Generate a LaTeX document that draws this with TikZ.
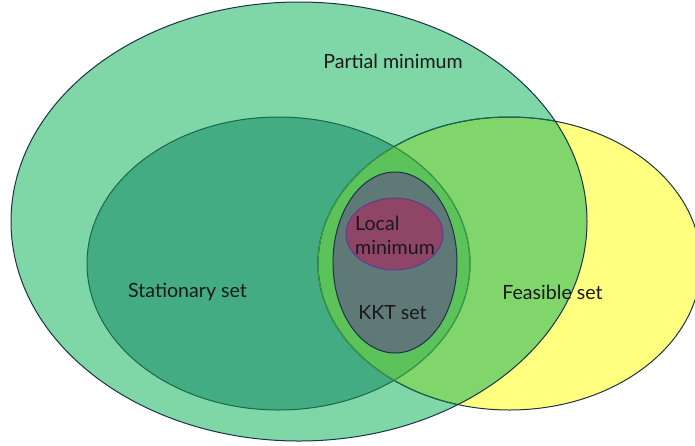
\documentclass[tikz,border=0pt]{standalone}
\usepackage{fontspec}
\setmainfont{Lato}
\definecolor{pfill}{HTML}{7FD6A7}
\definecolor{sfill}{HTML}{43AC83}
\definecolor{ffill}{HTML}{FFFF80}
\definecolor{pffill}{HTML}{80D66B}
\definecolor{sffill}{HTML}{5CC25A}
\definecolor{kfill}{HTML}{5F7977}
\definecolor{lfill}{HTML}{8E4566}
\definecolor{navy}{HTML}{1B3347}
\definecolor{dgreen}{HTML}{17694A}
\definecolor{lgreen}{HTML}{3F9E45}
\definecolor{lpurple}{HTML}{5B3E96}
\newcommand\PellPath{(299,221.5) ellipse [x radius=288pt, y radius=219.5pt]}
\newcommand\SellPath{(278.5,263.5) ellipse [x radius=191.5pt, y radius=146.5pt]}
\newcommand\FellPath{(509.5,263.5) ellipse [x radius=191.5pt, y radius=146.5pt]}
\newcommand\KellPath{(395,262.5) ellipse [x radius=62pt, y radius=90.5pt]}
\newcommand\LellPath{(394.5,234) ellipse [x radius=48.5pt, y radius=36pt]}
\tikzset{
  lbl/.style={font=\fontsize{19.6}{24}\selectfont, text=black!90, inner sep=0pt},
  edge/.style={line width=1pt}
}
\begin{document}
\begin{tikzpicture}[x=1pt,y=-1pt]
\useasboundingbox (0,0) rectangle (695,445);
% fills
\fill[pfill] \PellPath;
\fill[ffill] \FellPath;
\begin{scope}
  \clip \PellPath;
  \fill[pffill] \FellPath;
\end{scope}
\fill[sfill] \SellPath;
\begin{scope}
  \clip \SellPath;
  \fill[sffill] \FellPath;
\end{scope}
% borders
\draw[edge, navy] \FellPath;
\begin{scope}
  \clip \PellPath;
  \draw[edge, dgreen] \FellPath;
\end{scope}
\begin{scope}
  \clip \SellPath;
  \draw[edge, lgreen] \FellPath;
\end{scope}
\draw[edge, dgreen] \SellPath;
\begin{scope}
  \clip \FellPath;
  \draw[edge, lgreen] \SellPath;
\end{scope}
\draw[edge, navy] \PellPath;
\fill[kfill] \KellPath;
\draw[edge, navy] \KellPath;
\fill[lfill] \LellPath;
\draw[edge, lpurple] \LellPath;
% labels
\node[lbl] (partial) at (393,61) {Partial minimum};
\node[lbl] (stationary) at (187.5,292) {Stationary set};
\node[lbl] (feasible) at (552.5,292) {Feasible set};
\node[lbl] (kkt) at (392.5,313) {KKT set};
\node[lbl, anchor=west, align=left] (local) at (355,235) {Local\\minimum};
\end{tikzpicture}
\end{document}
